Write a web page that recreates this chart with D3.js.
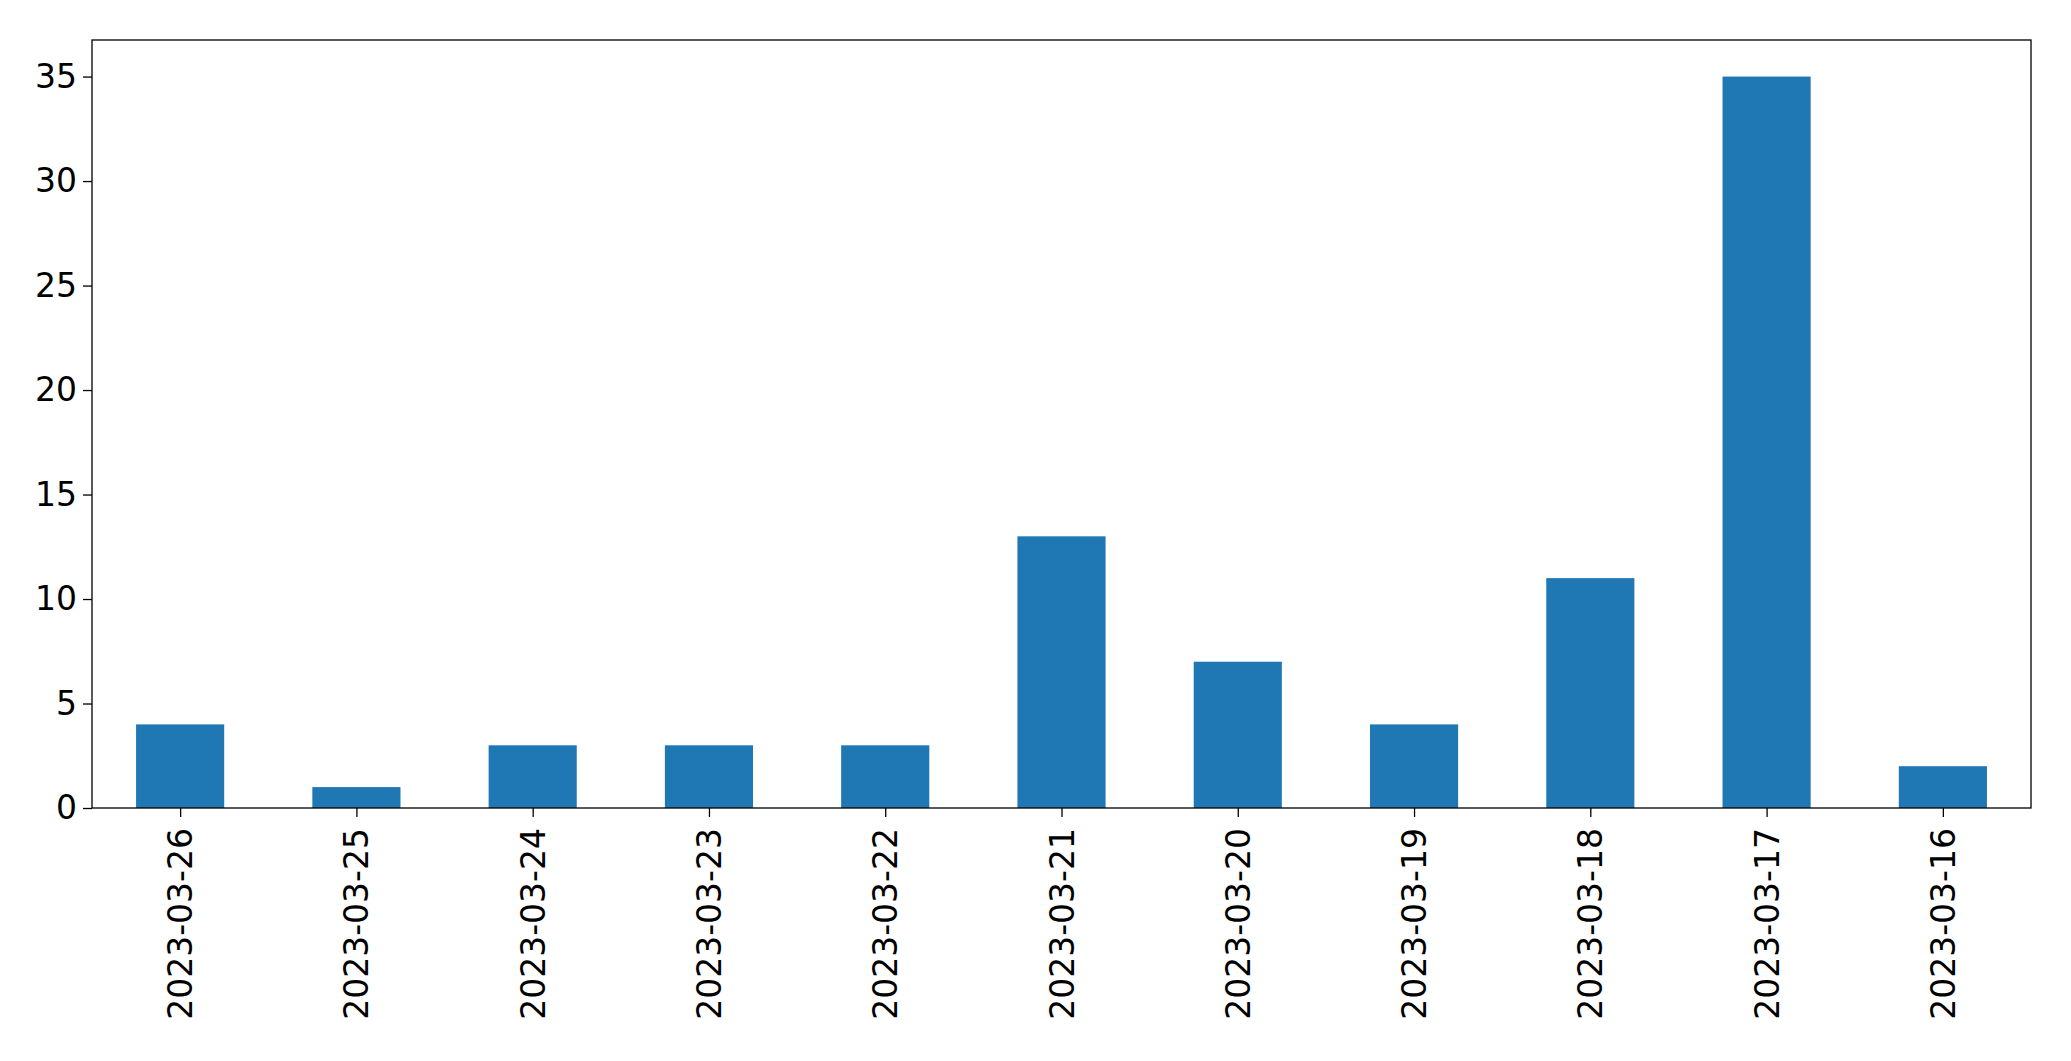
<!DOCTYPE html>
<html lang="en">
<head>
  <meta charset="UTF-8">
  <script src="https://d3js.org/d3.v7.min.js"></script>
  <style>
    body { margin: 0; background: #fff; }
    text { font-family: "DejaVu Sans", sans-serif; }
  </style>
</head>
<body>
<script>
  const dates = ["2023-03-26", "2023-03-25", "2023-03-24", "2023-03-23", "2023-03-22", "2023-03-21",
    "2023-03-20", "2023-03-19", "2023-03-18", "2023-03-17", "2023-03-16"];
  const counts = [4, 1, 3, 3, 3, 13, 7, 4, 11, 35, 2];
  const yTicks = [0, 5, 10, 15, 20, 25, 30, 35];

  const width = 2071, height = 1061;
  const margin = {left: 92, right: 40, top: 40, bottom: 253};

  const svg = d3.select("body").append("svg")
    .attr("width", width)
    .attr("height", height);

  const x = d3.scaleLinear()
    .domain([-0.5, dates.length - 0.5])
    .range([margin.left, width - margin.right]);

  const y = d3.scaleLinear()
    .domain([0, d3.max(counts) * 1.05])
    .range([height - margin.bottom, margin.top]);

  const barW = x(0.5) - x(0);

  svg.selectAll("rect.bar")
    .data(counts)
    .enter().append("rect")
    .attr("class", "bar")
    .attr("x", (d, i) => x(i) - barW / 2)
    .attr("y", d => y(d))
    .attr("width", barW)
    .attr("height", d => y(0) - y(d))
    .attr("fill", "#1f77b4");

  const yAxis = svg.append("g")
    .attr("transform", "translate(" + margin.left + ",0)")
    .call(d3.axisLeft(y).tickValues(yTicks).tickSize(9).tickPadding(6));
  yAxis.selectAll("text").attr("font-size", 33).attr("fill", "#000");

  const xAxis = svg.append("g")
    .attr("transform", "translate(0," + (height - margin.bottom) + ")")
    .call(d3.axisBottom(x).tickValues(d3.range(dates.length)).tickFormat(i => dates[i]).tickSize(9));
  xAxis.selectAll("text")
    .attr("font-size", 33)
    .attr("fill", "#000")
    .attr("transform", "rotate(-90)")
    .attr("text-anchor", "end")
    .attr("x", -20)
    .attr("y", 0)
    .attr("dy", "0.35em");

  svg.selectAll(".domain").remove();
  svg.selectAll(".tick line").attr("stroke", "#000").attr("stroke-width", 1.3);

  svg.append("rect")
    .attr("x", margin.left)
    .attr("y", margin.top)
    .attr("width", width - margin.left - margin.right)
    .attr("height", height - margin.top - margin.bottom)
    .attr("fill", "none")
    .attr("stroke", "#000")
    .attr("stroke-width", 1.3);
</script>
</body>
</html>
